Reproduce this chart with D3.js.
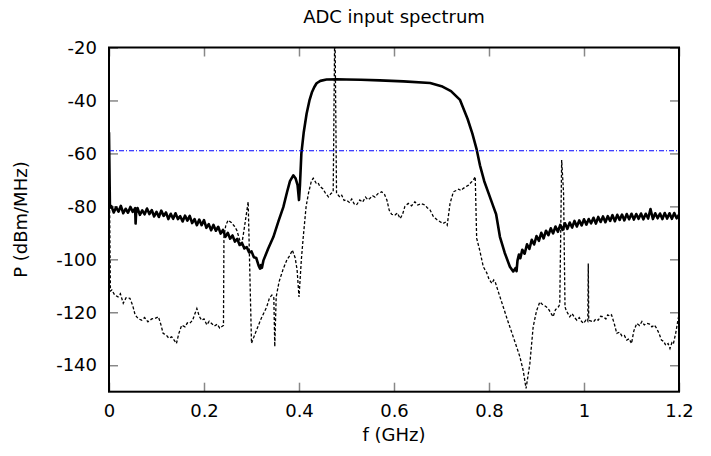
<!DOCTYPE html>
<html><head><meta charset="utf-8">
<script src="https://cdn.jsdelivr.net/npm/d3@7"></script>
<style>body{margin:0;background:#fff} text{font-family:"DejaVu Sans",sans-serif;fill:#000}</style>
</head><body><svg id="c" width="711" height="456"></svg>
<script>
const chartTitle = "ADC input spectrum";
const xLabel = "f (GHz)";
const yLabel = "P (dBm/MHz)";
const xTicks = [0, 0.2, 0.4, 0.6, 0.8, 1, 1.2];
const yTicks = [-140, -120, -100, -80, -60, -40, -20];
const thresholdLevel = -59;

// solid thick line: [f GHz, P dBm/MHz]
const signalSpectrum = [
[0,-52],[0.002,-80.5],[0.005,-79.9],[0.01,-82.3],[0.015,-80.4],[0.02,-82.0],[0.025,-79.8],[0.03,-82.6],[0.035,-80.9],[0.04,-82.4],
[0.045,-80.2],[0.05,-82.1],[0.055,-80.7],[0.056,-86.5],[0.057,-82.8],[0.06,-80.6],[0.065,-83.2],[0.07,-81.5],[0.075,-83.0],[0.08,-80.8],
[0.085,-82.9],[0.09,-81.4],[0.095,-83.8],[0.1,-82.1],[0.105,-84.0],[0.11,-81.6],[0.115,-83.6],[0.12,-82.3],[0.125,-84.8],[0.13,-82.8],
[0.135,-84.7],[0.14,-82.6],[0.145,-84.8],[0.15,-83.7],[0.155,-85.7],[0.16,-83.5],[0.165,-85.4],[0.17,-83.6],[0.175,-86.3],[0.18,-84.8],
[0.185,-87.1],[0.19,-85.0],[0.195,-87.1],[0.2,-85.2],[0.205,-88.1],[0.21,-86.7],[0.215,-89.0],[0.22,-87.0],[0.225,-89.2],[0.23,-87.7],
[0.235,-90.3],[0.24,-88.9],[0.245,-91.5],[0.25,-90.0],[0.255,-92.2],[0.26,-91.0],[0.265,-93.3],[0.27,-92.3],[0.275,-94.6],[0.28,-93.8],
[0.285,-95.9],[0.29,-95.4],[0.295,-97.4],[0.3,-97.0],[0.305,-99.2],[0.31,-99.5],[0.315,-102.4],[0.318,-103.5],[0.32,-102.2],[0.322,-103.2],
[0.325,-100.5],[0.335,-96],[0.346,-91.6],[0.357,-85.5],[0.367,-80.3],[0.375,-74.5],[0.381,-70.5],[0.388,-68.3],[0.393,-69.5],
[0.397,-72],[0.4,-77.6],[0.402,-72],[0.405,-60],[0.41,-52],[0.416,-45],[0.422,-40],[0.427,-37],[0.432,-35],[0.437,-33.5],
[0.445,-32.6],[0.458,-32.1],[0.48,-32],[0.5,-32.1],[0.53,-32.2],[0.57,-32.4],[0.62,-32.8],[0.676,-33.4],[0.7,-34.6],[0.72,-36.5],
[0.739,-39.8],[0.755,-47],[0.765,-52.5],[0.774,-58.5],[0.781,-64.5],[0.79,-70.5],[0.799,-75],[0.809,-80],[0.815,-83],[0.823,-91.5],
[0.833,-97.5],[0.844,-102.8],[0.851,-104.6],[0.856,-103.3],[0.858,-104.5],[0.86,-100.5],[0.863,-98.2],[0.866,-99.6],[0.87,-96.4],
[0.875,-97.9],[0.88,-94.3],[0.885,-96.1],[0.89,-92.6],[0.895,-94.4],[0.9,-91.2],[0.905,-93.0],[0.91,-90.0],[0.915,-92.1],[0.92,-89.2],
[0.925,-90.9],[0.93,-88.3],[0.935,-90.2],[0.94,-87.6],[0.945,-89.6],[0.95,-87.0],[0.955,-88.9],[0.96,-86.4],[0.965,-88.5],[0.97,-86.1],
[0.975,-88.0],[0.98,-85.5],[0.985,-87.6],[0.99,-85.3],[0.995,-87.2],[1.0,-84.9],[1.005,-86.9],[1.01,-84.8],[1.015,-86.4],[1.02,-84.3],
[1.025,-86.5],[1.03,-84.0],[1.035,-85.9],[1.04,-83.8],[1.045,-86.0],[1.05,-83.7],[1.055,-85.5],[1.06,-83.3],[1.065,-85.6],[1.07,-83.2],
[1.075,-85.1],[1.08,-83.1],[1.085,-85.3],[1.09,-82.9],[1.095,-84.9],[1.1,-82.8],[1.105,-85.0],[1.11,-82.9],[1.115,-84.7],[1.12,-82.7],
[1.125,-84.9],[1.13,-82.8],[1.135,-84.6],[1.14,-81.0],[1.145,-84.8],[1.15,-82.6],[1.155,-84.5],[1.16,-82.7],[1.165,-84.8],[1.17,-82.5],
[1.175,-84.6],[1.18,-82.6],[1.185,-84.7],[1.19,-82.5],[1.195,-84.5],[1.2,-83.2]
];

// thin dashed line: [f GHz, P dBm/MHz]
const residualSpectrum = [
[0,-55],[0.003,-112],[0.006,-111.6],[0.012,-113.5],[0.019,-114.2],[0.024,-113],[0.03,-116.6],[0.036,-114.5],[0.044,-114.7],[0.05,-117.5],
[0.055,-121],[0.062,-122.5],[0.069,-123],[0.075,-122],[0.082,-123.6],[0.09,-122.5],[0.097,-122.3],[0.104,-121.7],[0.109,-124.5],[0.114,-128],
[0.12,-128.5],[0.126,-129.8],[0.132,-129.3],[0.137,-130.5],[0.142,-131.8],[0.147,-128],[0.153,-124.9],[0.16,-125.5],[0.165,-124],[0.17,-124.2],
[0.176,-123],[0.181,-120.5],[0.185,-118.6],[0.19,-121.5],[0.195,-123],[0.2,-122.5],[0.206,-124.8],[0.211,-123.4],[0.216,-124.2],[0.222,-125.2],
[0.228,-124.5],[0.233,-126],[0.237,-125.5],[0.241,-125],[0.242,-91.5],[0.246,-87],[0.251,-85.2],[0.258,-86.2],[0.264,-87.5],[0.269,-89],
[0.274,-92],[0.279,-95],[0.285,-88],[0.293,-78.3],[0.3,-131.7],[0.31,-127],[0.32,-122.5],[0.332,-118],[0.338,-114.5],[0.343,-113.5],
[0.347,-114.5],[0.349,-133],[0.352,-114.2],[0.358,-108.5],[0.367,-103.5],[0.375,-100],[0.381,-98.5],[0.386,-96.5],[0.392,-99.5],[0.396,-104],
[0.4,-114.2],[0.405,-100],[0.409,-91.5],[0.415,-80],[0.42,-75],[0.426,-70.5],[0.43,-69.4],[0.436,-71.2],[0.44,-71],[0.444,-72.5],
[0.45,-73.3],[0.455,-74.8],[0.462,-76.4],[0.467,-75.2],[0.472,-74.5],[0.4755,-8],[0.479,-75],[0.486,-76.5],[0.49,-75.8],[0.495,-77.8],
[0.5,-77.6],[0.506,-78.5],[0.511,-77.2],[0.516,-79],[0.521,-79.5],[0.528,-77.6],[0.534,-78.4],[0.54,-76.5],[0.545,-77.5],[0.549,-77],
[0.555,-76],[0.56,-76.5],[0.566,-75.2],[0.574,-74.5],[0.58,-75.5],[0.585,-77.6],[0.59,-81.5],[0.595,-83],[0.602,-83.3],[0.607,-82.5],
[0.613,-84.6],[0.618,-83],[0.623,-80],[0.63,-78.9],[0.637,-79.8],[0.644,-78.3],[0.65,-79.5],[0.657,-79],[0.665,-79.5],[0.67,-80.5],
[0.676,-81.4],[0.683,-83.9],[0.69,-85],[0.697,-85.8],[0.703,-86.5],[0.708,-86],[0.712,-87.1],[0.718,-78.9],[0.725,-74.5],[0.731,-74],
[0.736,-73.5],[0.741,-74],[0.746,-73.2],[0.752,-72.5],[0.757,-72],[0.762,-71],[0.767,-70.1],[0.771,-68.8],[0.774,-92],[0.781,-97],
[0.788,-102.8],[0.795,-105],[0.8,-107.5],[0.806,-109.1],[0.81,-107.8],[0.813,-108.5],[0.82,-112.5],[0.83,-118],[0.84,-123.5],[0.851,-129.3],
[0.858,-133],[0.865,-136.8],[0.872,-142],[0.878,-148.8],[0.886,-139.4],[0.893,-125.5],[0.9,-119.5],[0.907,-116.1],[0.912,-117],[0.917,-117.5],
[0.921,-118],[0.926,-119],[0.931,-120.5],[0.935,-121.7],[0.94,-119],[0.946,-118],[0.949,-117],[0.953,-62.5],[0.957,-75],[0.96,-118],
[0.963,-119.5],[0.97,-121.7],[0.975,-120.5],[0.98,-122],[0.985,-123],[0.99,-122],[0.995,-123.5],[0.999,-124.2],[1.004,-123],[1.008,-123.5],
[1.009,-101.6],[1.01,-123],[1.02,-123.6],[1.025,-122.5],[1.03,-123],[1.035,-121.5],[1.041,-121.7],[1.046,-122.5],[1.05,-121],[1.055,-121.5],
[1.058,-121],[1.064,-124.5],[1.069,-128],[1.075,-127.5],[1.08,-129],[1.085,-128.8],[1.09,-130.5],[1.095,-130],[1.1,-131.8],[1.105,-127],
[1.111,-124.2],[1.117,-125],[1.122,-123.5],[1.127,-124.8],[1.132,-124.2],[1.138,-124.5],[1.143,-125.5],[1.148,-124.8],[1.153,-126.1],[1.158,-128],
[1.163,-130.5],[1.168,-131],[1.172,-132.5],[1.177,-131.8],[1.181,-133.7],[1.185,-131.5],[1.188,-132],[1.193,-128],[1.199,-121.7]
];

const svg = d3.select("#c");
const L = 109, R = 679, T = 47.5, B = 391.7;
const x = d3.scaleLinear().domain([0, 1.2]).range([L, R]);
const y = d3.scaleLinear().domain([-150, -20]).range([B, T]);
const fs = 18;

svg.append("defs").append("clipPath").attr("id", "clip")
  .append("rect").attr("x", L).attr("y", T).attr("width", R - L).attr("height", B - T);

function styleAxis(g, labels) {
  g.select(".domain").remove();
  g.selectAll(".tick line").attr("stroke", "#888").attr("stroke-width", 1.5);
  if (labels) g.selectAll(".tick text").attr("font-size", fs).attr("font-family", "DejaVu Sans").attr("fill", "#000");
  else g.selectAll(".tick text").remove();
}
const fmt = d => String(d);
svg.append("g").attr("transform", `translate(0,${B})`)
  .call(d3.axisBottom(x).tickValues(xTicks).tickFormat(fmt).tickSize(-9).tickPadding(13))
  .call(g => styleAxis(g, true));
svg.append("g").attr("transform", `translate(0,${T})`)
  .call(d3.axisTop(x).tickValues(xTicks).tickSize(-9))
  .call(g => styleAxis(g, false));
svg.append("g").attr("transform", `translate(${L},0)`)
  .call(d3.axisLeft(y).tickValues(yTicks).tickFormat(fmt).tickSize(-9).tickPadding(12))
  .call(g => styleAxis(g, true));
svg.append("g").attr("transform", `translate(${R},0)`)
  .call(d3.axisRight(y).tickValues(yTicks).tickSize(-9))
  .call(g => styleAxis(g, false));

const line = d3.line().x(d => x(d[0])).y(d => y(d[1]));
const plot = svg.append("g").attr("clip-path", "url(#clip)");

plot.append("path").datum(residualSpectrum).attr("d", line)
  .attr("fill", "none").attr("stroke", "#000").attr("stroke-width", 1.3)
  .attr("stroke-dasharray", "3,2");
plot.append("path").datum(signalSpectrum).attr("d", line)
  .attr("fill", "none").attr("stroke", "#000").attr("stroke-width", 2.6)
  .attr("stroke-linejoin", "round");
plot.append("line").attr("x1", x(0)).attr("x2", x(1.2))
  .attr("y1", y(thresholdLevel)).attr("y2", y(thresholdLevel))
  .attr("stroke", "#0000ff").attr("stroke-width", 1)
  .attr("stroke-dasharray", "5,2,1,2");

svg.append("rect").attr("x", L).attr("y", T).attr("width", R - L).attr("height", B - T)
  .attr("fill", "none").attr("stroke", "#000").attr("stroke-width", 2);

svg.append("text").attr("x", (L + R) / 2).attr("y", 23).attr("text-anchor", "middle")
  .attr("font-size", fs).text(chartTitle);
svg.append("text").attr("x", (L + R) / 2).attr("y", 441).attr("text-anchor", "middle")
  .attr("font-size", fs).text(xLabel);
svg.append("text").attr("transform", `translate(27,${(T + B) / 2}) rotate(-90)`)
  .attr("text-anchor", "middle").attr("font-size", fs).text(yLabel);
</script></body></html>
